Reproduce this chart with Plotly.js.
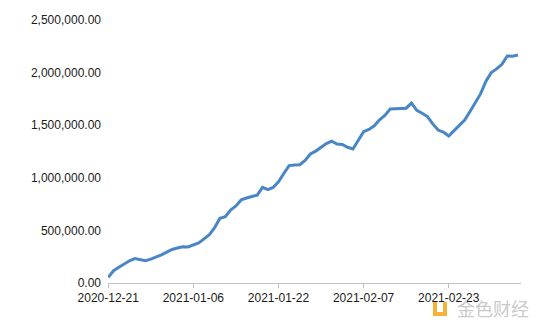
<!DOCTYPE html>
<html>
<head>
<meta charset="utf-8">
<script src="https://cdn.plot.ly/plotly-3.0.1.min.js"></script>
<style>html,body{margin:0;padding:0;background:#fff;}#chart{width:539px;height:326px;}</style>
</head>
<body>
<div id="chart"></div>
<script>
var startDate = '2020-12-21';
var values = [
  54000, 116900, 150200, 181600, 211000, 231900, 219600, 212000, 227200, 246200,
  268100, 293700, 318500, 332700, 345100, 343000, 361200, 381200, 419200, 458200,
  526600, 616000, 630200, 693900, 732000, 790000, 808000, 822300, 835600, 909700,
  886900, 907800, 962000, 1040900, 1116000, 1121700, 1124000, 1164500, 1226300, 1253800,
  1291900, 1325100, 1348900, 1321300, 1316600, 1290000, 1273800, 1359400, 1439200, 1459200,
  1494300, 1551400, 1593200, 1654000, 1656900, 1660700, 1662000, 1710100, 1641700, 1614100,
  1582700, 1512400, 1453500, 1434500, 1397400, 1448700, 1499100, 1549500, 1630300, 1713900,
  1799500, 1918300, 2000100, 2035200, 2079000, 2157900, 2155000, 2167400
];
var tickDates = ['2020-12-21', '2021-01-06', '2021-01-22', '2021-02-07', '2021-02-23'];
var yTicks = [0, 500000, 1000000, 1500000, 2000000, 2500000];
var watermarkText = '金色财经';

function addDays(s, n) {
  var d = new Date(s + 'T00:00:00Z');
  d.setUTCDate(d.getUTCDate() + n);
  return d.toISOString().slice(0, 10);
}
var dates = values.map(function (v, i) { return addDays(startDate, i); });

var trace = {
  x: dates, y: values, type: 'scatter', mode: 'lines',
  line: {color: '#4a86c6', width: 3}, hoverinfo: 'skip'
};

var plotW = 539 - 108 - 18, plotH = 326 - 20 - 43;
function px(x) { return (x - 108) / plotW; }
function py(y) { return (326 - 43 - y) / plotH; }

var layout = {
  width: 539, height: 326,
  margin: {l: 108, r: 18, t: 20, b: 43},
  paper_bgcolor: '#fff', plot_bgcolor: '#fff',
  showlegend: false,
  font: {family: 'Liberation Sans, Arial, sans-serif', size: 12, color: '#1a1a1a'},
  xaxis: {
    type: 'date',
    range: ['2020-12-20 23:00', '2021-03-08 14:00'],
    tickmode: 'array', tickvals: tickDates, ticktext: tickDates,
    showgrid: false, zeroline: false,
    showline: true, linecolor: '#c0c0c0', linewidth: 1,
    ticks: 'outside', ticklen: 4, tickcolor: '#c0c0c0',
    tickfont: {size: 12, color: '#1a1a1a'}
  },
  yaxis: {
    range: [0, 2500000],
    tickmode: 'array', tickvals: yTicks,
    tickformat: ',.2f',
    showgrid: false, zeroline: false, showline: false,
    ticks: '', ticklabelstandoff: 6,
    tickfont: {size: 12, color: '#1a1a1a'}
  },
  shapes: [
    {type: 'path', xref: 'paper', yref: 'paper',
     path: 'M ' + px(433) + ',' + py(302) + ' L ' + px(437) + ',' + py(302) + ' L ' + px(437) + ',' + py(312) +
           ' L ' + px(443) + ',' + py(312) + ' L ' + px(443) + ',' + py(302) + ' L ' + px(447) + ',' + py(302) +
           ' L ' + px(447) + ',' + py(316) + ' L ' + px(433) + ',' + py(316) + ' Z',
     fillcolor: 'rgba(245,170,30,0.9)', line: {width: 0}, layer: 'above'}
  ],
  annotations: [
    {
      text: watermarkText, xref: 'paper', yref: 'paper',
      x: px(531), y: py(308), xanchor: 'right', yanchor: 'middle', showarrow: false,
      font: {family: 'Noto Sans CJK SC', size: 18, color: 'rgba(195,195,195,0.9)'}
    }
  ]
};

Plotly.newPlot('chart', [trace], layout, {displayModeBar: false, staticPlot: true});
</script>
</body>
</html>
